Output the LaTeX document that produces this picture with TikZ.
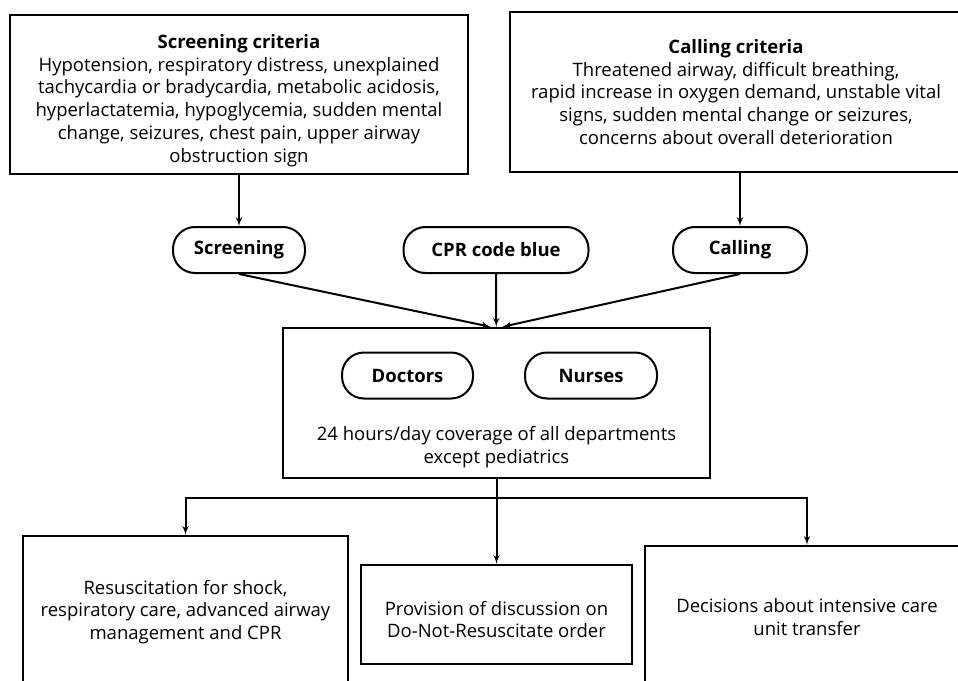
\documentclass[tikz,border=0pt]{standalone}
\usepackage{fontspec}
\setmainfont{Open Sans}
\usetikzlibrary{shapes,arrows,positioning}
\newcommand{\flowfont}{\fontsize{18.5}{22.7}\selectfont}

\begin{document}
\begin{tikzpicture}[x=1pt, y=-1pt, auto]

    % Define block styles
    \tikzstyle{block} = [rectangle, draw, line width=2.4pt, text centered, align=center, sharp corners, inner sep=0pt, font=\flowfont]
    \tikzstyle{pill} = [rectangle, draw, line width=2pt, rounded corners=22pt, minimum height=46pt, inner sep=0pt, font=\flowfont\bfseries]
    \tikzstyle{line} = [draw, line width=2pt, -latex']

    \path [use as bounding box, clip] (0,0) rectangle (958,680);

    % Nodes
    \node [block, minimum width=458pt, minimum height=159pt] (screencrit) at (239,94.5) {\rule{0pt}{26pt}\textbf{Screening criteria}\\
        Hypotension, respiratory distress, unexplained\\
        tachycardia or bradycardia, metabolic acidosis,\\
        hyperlactatemia, hypoglycemia, sudden mental\\
        change, seizures, chest pain, upper airway\\
        obstruction sign};
    \node [block, minimum width=452pt, minimum height=160pt] (callcrit) at (736,92) {\textbf{Calling criteria}\\
        Threatened airway, difficult breathing,\\
        rapid increase in oxygen demand, unstable vital\\
        signs, sudden mental change or seizures,\\
        concerns about overall deterioration};
    \node [pill, minimum width=132pt] (screening) at (239,250) {Screening};
    \node [pill, minimum width=185pt] (codeblue) at (496,250) {CPR code blue};
    \node [pill, minimum width=134pt] (calling) at (740,250) {Calling};
    \node [block, minimum width=427pt, minimum height=150pt] (team) at (496.5,403) {};
    \node [pill, minimum width=131pt] (doctors) at (407.5,375.5) {Doctors};
    \node [pill, minimum width=132pt, right=50pt of doctors] (nurses) {Nurses};
    \node [align=center, font=\flowfont] (coverage) at (496.5,447) {24 hours/day coverage of all departments\\ except pediatrics};
    \node [block, minimum width=325pt, minimum height=152pt] (resus) at (185.5,612) {Resuscitation for shock,\\ respiratory care, advanced airway\\ management and CPR};
    \node [block, minimum width=271pt, minimum height=99pt] (dnr) at (496.5,614.5) {\rule{0pt}{24pt}Provision of discussion on\\ Do-Not-Resuscitate order};
    \node [block, minimum width=324pt, minimum height=142pt] (icu) at (807,617) {Decisions about intensive care\\ unit transfer};
    \coordinate (branch) at (496.5,498);

    % Arrows
    \path [line] (screencrit.south -| screening) -- (screening);
    \path [line] (callcrit.south -| calling) -- (calling);
    \path [line] (screening.south) -- ([xshift=-6pt]team.north);
    \path [line] (codeblue) -- (team);
    \path [line] (calling.south) -- ([xshift=6pt]team.north);
    \path [line] (team) -- (dnr);
    \path [line] (branch) -| (resus);
    \path [line] (branch) -| (icu);

\end{tikzpicture}
\end{document}
